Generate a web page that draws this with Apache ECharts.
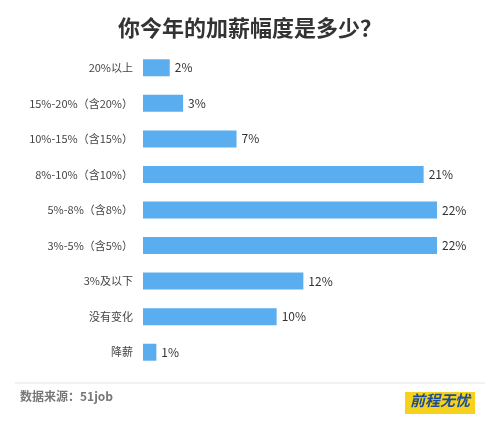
<!DOCTYPE html>
<html>
<head>
<meta charset="UTF-8">
<script src="https://cdn.jsdelivr.net/npm/echarts@6/dist/echarts.min.js"></script>
</head>
<body style="margin:0;background:#fff;">
<div id="chart" style="width:500px;height:425px;"></div>
<script>
var categories = ['20%以上', '15%-20%（含20%）', '10%-15%（含15%）', '8%-10%（含10%）', '5%-8%（含8%）', '3%-5%（含5%）', '3%及以下', '没有变化', '降薪'];
var values = [2, 3, 7, 21, 22, 22, 12, 10, 1];

var chart = echarts.init(document.getElementById('chart'));
chart.setOption({
    backgroundColor: '#fff',
    title: {
        text: '你今年的加薪幅度是多少？',
        left: 'center',
        top: 12,
        textStyle: {fontSize: 22, fontWeight: 'bold', color: '#333', fontFamily: 'Noto Sans CJK SC'}
    },
    grid: {left: 143, right: 63, top: 50, bottom: 55},
    xAxis: {type: 'value', min: 0, max: 22, show: false},
    yAxis: {
        type: 'category',
        data: categories,
        inverse: true,
        axisLine: {show: false},
        axisTick: {show: false},
        axisLabel: {color: '#444', fontSize: 11, margin: 10, fontFamily: 'Noto Sans CJK SC'}
    },
    series: [{
        type: 'bar',
        data: values,
        barWidth: 17,
        itemStyle: {color: '#5aaef0'},
        label: {show: true, position: 'right', formatter: '{c}%', color: '#333', fontSize: 12, fontFamily: 'Noto Sans CJK SC'}
    }],
    graphic: [
        {type: 'line', shape: {x1: 15, y1: 383, x2: 485, y2: 383}, style: {stroke: '#e5e5e5', lineWidth: 1}},
        {type: 'text', left: 20, top: 390, style: {text: '数据来源：51job', fill: '#777', font: 'bold 12px "Noto Sans CJK SC"'}},
        {type: 'rect', shape: {x: 405, y: 392, width: 70, height: 22}, style: {fill: '#f7d21c'}},
        {type: 'text', left: 410, top: 393, style: {text: '前程无忧', fill: '#1a4f9c', font: 'italic bold 15px "Noto Sans CJK SC"'}}
    ]
});
</script>
</body>
</html>
